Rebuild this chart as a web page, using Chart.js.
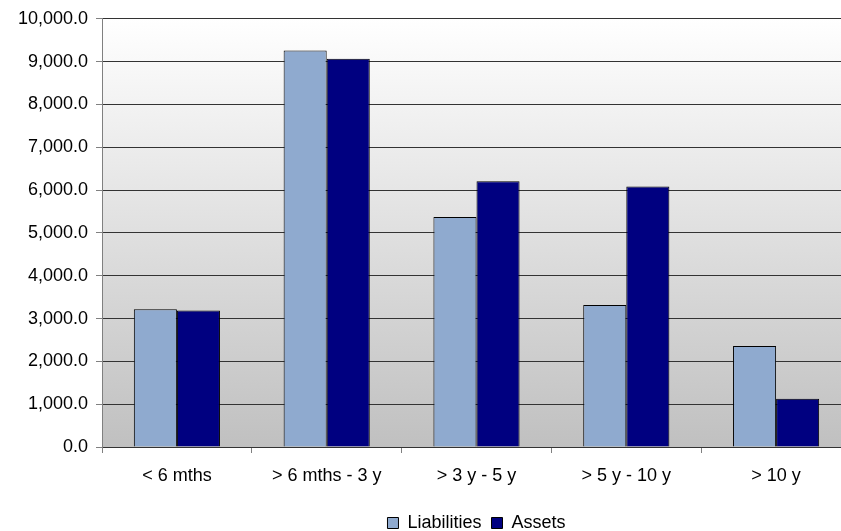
<!DOCTYPE html>
<html>
<head>
<meta charset="utf-8">
<script src="https://cdn.jsdelivr.net/npm/chart.js@4"></script>
<style>
    body { margin: 0; overflow: hidden; background: #fff; }
    #wrap { position: relative; width: 851px; height: 542px; }
</style>
</head>
<body>
<div id="wrap"><canvas id="bar-chart"></canvas></div>
<script>
const FONTCOLOR = "#000";
const LIABCOLOR = "#8FAACF";
const ASSETCOLOR = "#000080";

const categories = ["< 6 mths", "> 6 mths - 3 y", "> 3 y - 5 y", "> 5 y - 10 y", "> 10 y"];
const liabilities = [3217, 9259, 5374, 3318, 2360];
const assets = [3185, 9065, 6208, 6082, 1129];
const yTicks = [0, 1000, 2000, 3000, 4000, 5000, 6000, 7000, 8000, 9000, 10000];

// gray gradient behind the plot area
const plotBackground = {
    id: "plotBackground",
    beforeDraw(chart) {
        const { ctx, chartArea } = chart;
        const grad = ctx.createLinearGradient(0, chartArea.top, 0, chartArea.bottom);
        grad.addColorStop(0, "#ffffff");
        grad.addColorStop(1, "#c0c0c0");
        ctx.save();
        ctx.fillStyle = grad;
        ctx.fillRect(chartArea.left, chartArea.top, chartArea.right - chartArea.left, chartArea.bottom - chartArea.top);
        ctx.restore();
    }
};

// centre the legend under the plot area, not the whole canvas
const legendUnderPlot = {
    id: "legendUnderPlot",
    afterLayout(chart) {
        const legend = chart.legend;
        if (!legend) return;
        legend.left = chart.chartArea.left;
        legend.width = legend.right - legend.left;
    }
};

Chart.defaults.font.family = "'Liberation Sans', Arial, sans-serif";
Chart.defaults.font.size = 18;
Chart.defaults.color = FONTCOLOR;

const ctx = document.querySelector("#bar-chart").getContext("2d");
const configuration = {
    type: "bar",
    data: {
        labels: categories,
        datasets: [{
            label: "Liabilities",
            data: liabilities,
            backgroundColor: LIABCOLOR,
            borderColor: "#000",
            borderWidth: 1
        }, {
            label: "Assets",
            data: assets,
            backgroundColor: ASSETCOLOR,
            borderColor: "#000",
            borderWidth: 1
        }]
    },
    options: {
        responsive: true,
        maintainAspectRatio: false,
        animation: false,
        categoryPercentage: 0.575,
        barPercentage: 1,
        layout: { padding: { top: 18, right: 0, left: 0, bottom: 0 } },
        scales: {
            x: {
                grid: {
                    offset: true,
                    drawOnChartArea: false,
                    tickLength: 6,
                    tickColor: "#808080"
                },
                border: { color: "#333", width: 1 },
                ticks: { padding: 12, maxRotation: 0, autoSkip: false },
                afterFit: function(scale) { scale.height = 57; }
            },
            y: {
                min: 0,
                max: 10000,
                afterBuildTicks: function(scale) {
                    scale.ticks = yTicks.map(v => ({ value: v }));
                },
                grid: {
                    color: "#333",
                    tickColor: "#808080",
                    tickLength: 6
                },
                border: { color: "#808080", width: 1 },
                ticks: {
                    padding: 8,
                    callback: function(value) {
                        return Number(value).toLocaleString("en-US", { minimumFractionDigits: 1, maximumFractionDigits: 1 });
                    }
                },
                afterFit: function(scale) { scale.width = 102; }
            }
        },
        plugins: {
            legend: {
                position: "bottom",
                labels: {
                    boxWidth: 11,
                    boxHeight: 11,
                    padding: 10,
                    color: FONTCOLOR
                }
            },
            tooltip: { enabled: false }
        }
    },
    plugins: [plotBackground, legendUnderPlot]
};
new Chart(ctx, configuration);
</script>
</body>
</html>
